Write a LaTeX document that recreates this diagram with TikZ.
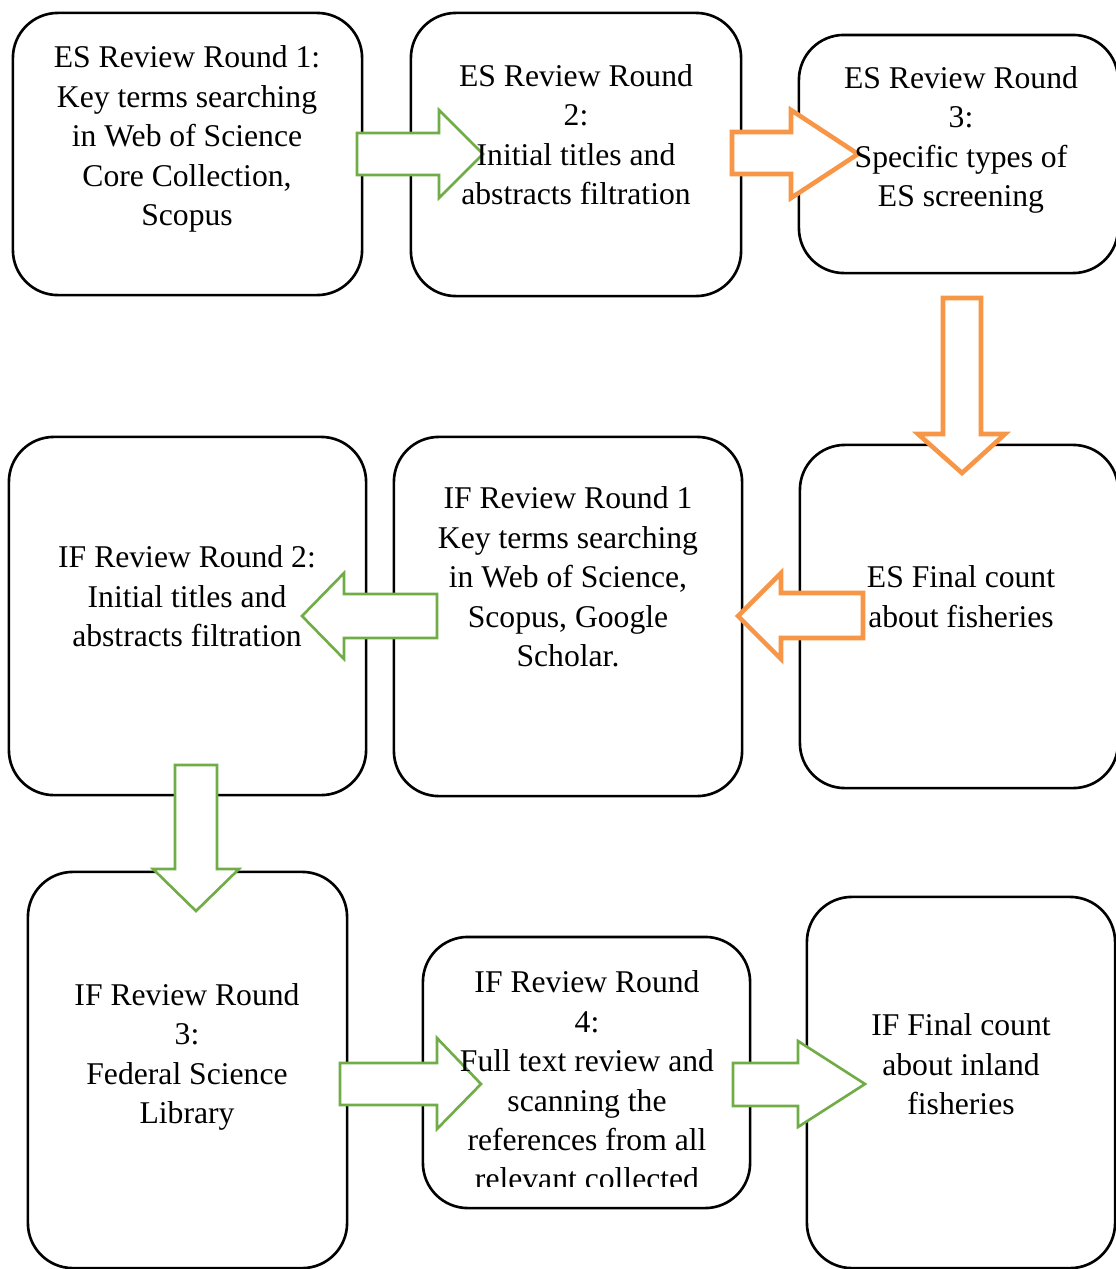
\documentclass[tikz,border=0pt]{standalone}
\usepackage{fontspec}
\setmainfont{Liberation Serif}
\begin{document}
\begin{tikzpicture}[x=0.01cm,y=-0.01cm,
  box/.style={draw=black,line width=0.75pt,rounded corners=0.45cm,inner sep=0pt,fill=white},
  txt/.style={align=center,inner sep=0pt,font=\fontsize{9}{11.2}\selectfont},
  garrow/.style={draw={rgb,255:red,112;green,173;blue,71},fill=white,line width=0.75pt,line join=miter},
  oarrow/.style={draw={rgb,255:red,247;green,150;blue,70},fill=white,line width=1.3pt,line join=miter}]
\useasboundingbox (0,0) rectangle (1116,1269);
\clip (0,0) rectangle (1116,1269);
% boxes
\node[box,minimum width=3.49cm,minimum height=2.82cm] (b1) at (187.5,154) {};
\node[box,minimum width=3.30cm,minimum height=2.83cm] (b2) at (576,154.5) {};
\node[box,minimum width=3.19cm,minimum height=2.38cm] (b3) at (958.5,154) {};
\node[box,minimum width=3.57cm,minimum height=3.58cm] (b4) at (187.5,616) {};
\node[box,minimum width=3.48cm,minimum height=3.59cm] (b5) at (568,616.5) {};
\node[box,minimum width=3.18cm,minimum height=3.43cm] (b6) at (959,616.5) {};
\node[box,minimum width=3.19cm,minimum height=3.96cm] (b7) at (187.5,1070) {};
\node[box,minimum width=3.27cm,minimum height=2.71cm] (b8) at (586.5,1072.5) {};
\node[box,minimum width=3.08cm,minimum height=3.71cm] (b9) at (961,1082.5) {};
% arrows
\draw[garrow] (357,133) -- (439,133) -- (439,110) -- (483,154) -- (439,198) -- (439,175) -- (357,175) -- cycle;
\draw[oarrow] (732,132) -- (791,132) -- (791,110) -- (858,154) -- (791,198) -- (791,174) -- (732,174) -- cycle;
\draw[oarrow] (943,298) -- (981,298) -- (981,434) -- (1005,434) -- (962,473) -- (918,434) -- (943,434) -- cycle;
\draw[oarrow] (863,593) -- (781,593) -- (781,573) -- (738,616) -- (781,659) -- (781,638) -- (863,638) -- cycle;
\draw[garrow] (437,594) -- (344,594) -- (344,573) -- (302,616) -- (344,659) -- (344,638) -- (437,638) -- cycle;
\draw[garrow] (175,765) -- (217,765) -- (217,869) -- (239,869) -- (196,911) -- (153,869) -- (175,869) -- cycle;
\draw[garrow] (340,1063) -- (437,1063) -- (437,1038) -- (481,1084) -- (437,1129) -- (437,1105) -- (340,1105) -- cycle;
\draw[garrow] (733,1063) -- (798,1063) -- (798,1041) -- (865,1084) -- (798,1127) -- (798,1106) -- (733,1106) -- cycle;
% texts
\node[txt] (t1) at (187,139) {ES Review Round 1:\\Key terms searching\\in Web of Science\\Core Collection,\\Scopus};
\node[txt] (t2) at (576,134.5) {ES Review Round\\2:\\Initial titles and\\abstracts filtration};
\node[txt] (t3) at (961,140) {ES Review Round\\3:\\Specific types of\\ES screening};
\node[txt] (t4) at (187,596.5) {IF Review Round 2:\\Initial titles and\\abstracts filtration};
\node[txt] (t5) at (568,577) {IF Review Round 1\\Key terms searching\\in Web of Science,\\Scopus, Google\\Scholar.};
\node[txt] (t6) at (961,596.5) {ES Final count\\about fisheries};
\node[txt] (t7) at (187,1057) {IF Review Round\\3:\\Federal Science\\Library};
\begin{scope}
\clip (423,937) rectangle (750,1186);
\node[txt] (t8) at (587,1080.5) {IF Review Round\\4:\\Full text review and\\scanning the\\references from all\\relevant collected};
\end{scope}
\node[txt] (t9) at (961,1064.5) {IF Final count\\about inland\\fisheries};
\end{tikzpicture}
\end{document}
